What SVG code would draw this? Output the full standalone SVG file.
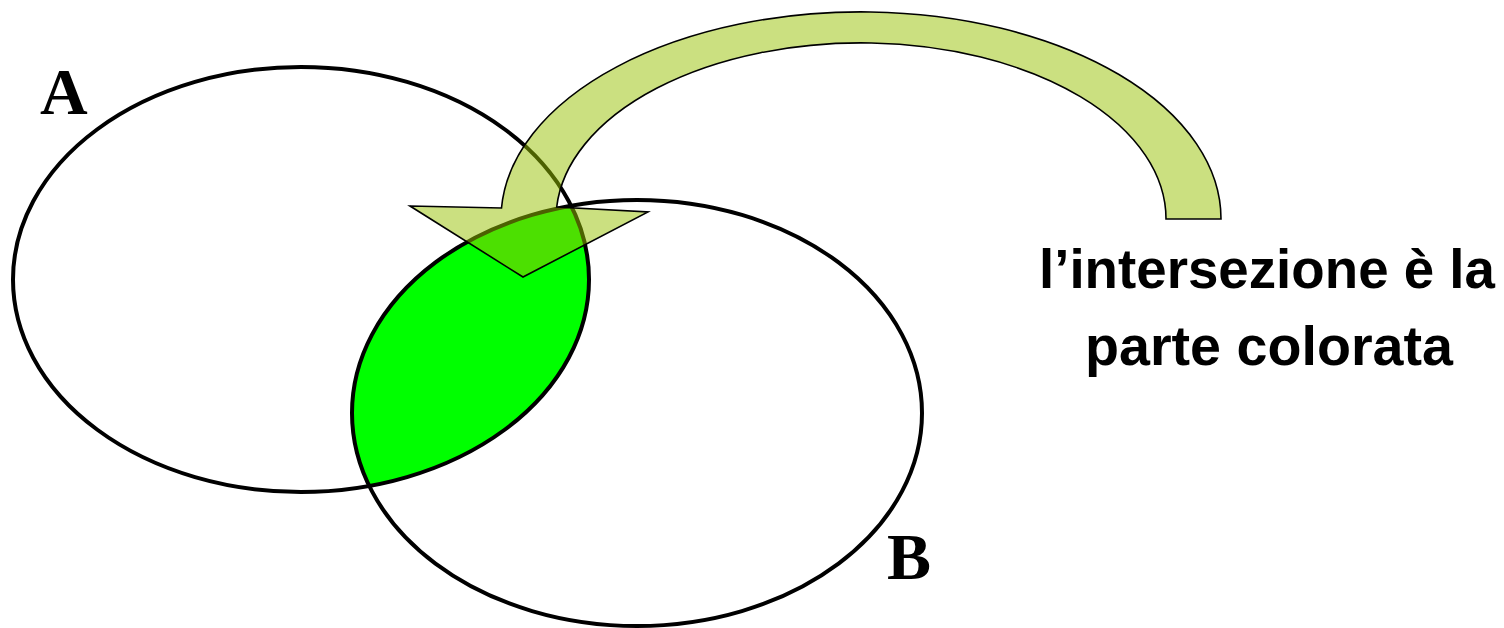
<svg xmlns="http://www.w3.org/2000/svg" width="1504" height="628" viewBox="0 0 1504 628">
<style>
.set{fill:none;stroke:#000;stroke-width:4}
.lbl{font-family:"Liberation Serif","Times New Roman",serif;font-weight:bold;font-size:66px;fill:#000}
.cap{font-family:"Liberation Sans",Arial,sans-serif;font-weight:bold;font-size:55px;fill:#000}
</style>
<defs>
<clipPath id="clipB"><ellipse cx="637" cy="413" rx="285" ry="213"/></clipPath>
</defs>
<g id="intersection">
<ellipse cx="301" cy="279.5" rx="288" ry="212.5" fill="#00ff00" clip-path="url(#clipB)"/>
</g>
<g id="setA">
<ellipse class="set" cx="301" cy="279.5" rx="288" ry="212.5"/>
<text class="lbl" x="40" y="114">A</text>
</g>
<g id="setB">
<ellipse class="set" cx="637" cy="413" rx="285" ry="213"/>
<text class="lbl" x="887" y="579">B</text>
</g>
<g id="connectors">
<path d="M410,206 L501.5,208 A360,207 0 0 1 1221,219 L1166,219 A305,176 0 0 0 556.7,207 L648,212 L523,277 Z" fill="rgb(152,194,2)" fill-opacity="0.5" stroke="#000" stroke-width="1.6" stroke-linejoin="miter"/>
</g>
<g id="caption">
<text class="cap" x="1039" y="288" textLength="456" lengthAdjust="spacingAndGlyphs">l’intersezione è la</text>
<text class="cap" x="1085" y="365" textLength="368" lengthAdjust="spacingAndGlyphs">parte colorata</text>
</g>
</svg>
